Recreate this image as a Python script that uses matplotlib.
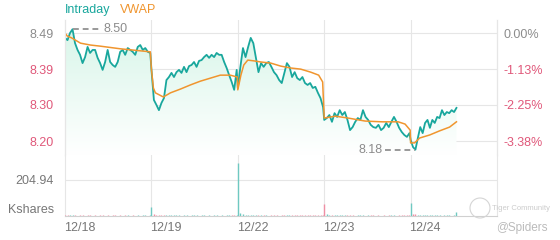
import numpy as np
import matplotlib.pyplot as plt
from matplotlib.colors import LinearSegmentedColormap
from matplotlib.patches import Circle

plt.rcParams['font.family'] = ['Liberation Sans', 'DejaVu Sans']

# ---- data ----
days = ['12/18', '12/19', '12/22', '12/23', '12/24']
session_end = [385, 385, 385, 385, 207]   # minutes after open of last print
prev_close = 8.49
pct_ticks = [0.00, -1.13, -2.25, -3.38]

price_d1 = [8.477, 8.471, 8.490, 8.500, 8.463, 8.445, 8.432, 8.410, 8.426, 8.453,
            8.437, 8.445, 8.445, 8.424, 8.410, 8.392, 8.413, 8.445, 8.413, 8.405,
            8.400, 8.413, 8.440, 8.445, 8.432, 8.450, 8.445, 8.440, 8.432, 8.453,
            8.458, 8.445, 8.450, 8.440, 8.437]
price_d2 = [8.394, 8.312, 8.299, 8.285, 8.304, 8.317, 8.365, 8.373, 8.384, 8.373,
            8.386, 8.392, 8.384, 8.400, 8.386, 8.402, 8.405, 8.413, 8.400, 8.416,
            8.418, 8.426, 8.432, 8.424, 8.432, 8.426, 8.437, 8.432, 8.432, 8.413,
            8.397, 8.378, 8.360, 8.339, 8.392]
price_d3 = [8.344, 8.400, 8.450, 8.426, 8.453, 8.477, 8.463, 8.424, 8.386, 8.410,
            8.400, 8.410, 8.413, 8.400, 8.386, 8.378, 8.365, 8.357, 8.384, 8.410,
            8.400, 8.373, 8.386, 8.370, 8.365, 8.373, 8.357, 8.352, 8.357, 8.344,
            8.347, 8.331, 8.317, 8.293]
price_d4 = [8.259, 8.264, 8.272, 8.254, 8.277, 8.267, 8.285, 8.272, 8.280, 8.259,
            8.232, 8.240, 8.254, 8.264, 8.259, 8.285, 8.267, 8.259, 8.246, 8.240,
            8.238, 8.246, 8.232, 8.238, 8.251, 8.240, 8.254, 8.267, 8.254, 8.238,
            8.227, 8.219, 8.214, 8.224]
price_d5 = [8.206, 8.187, 8.180, 8.211, 8.240, 8.224, 8.251, 8.259, 8.238, 8.259,
            8.251, 8.267, 8.264, 8.285, 8.272, 8.280, 8.277, 8.285, 8.280, 8.291]

vwap_min_d1 = [0, 10, 30, 70, 115, 160, 250, 385]
vwap_d1 = [8.490, 8.482, 8.477, 8.463, 8.458, 8.455, 8.448, 8.440]
vwap_min_d2 = [0, 9, 18, 54, 86, 131, 176, 221, 266, 311, 356, 388]
vwap_d2 = [8.394, 8.344, 8.331, 8.320, 8.331, 8.341, 8.352, 8.362, 8.370, 8.378, 8.378, 8.373]
vwap_min_d3 = [0, 14, 27, 45, 72, 104, 149, 194, 239, 284, 329, 365, 383]
vwap_d3 = [8.339, 8.378, 8.405, 8.418, 8.416, 8.413, 8.410, 8.402, 8.397, 8.394, 8.386, 8.378, 8.360]
vwap_min_d4 = [0, 50, 108, 185, 262, 334, 365, 388]
vwap_d4 = [8.264, 8.269, 8.264, 8.256, 8.254, 8.254, 8.248, 8.232]
vwap_min_d5 = [0, 18, 41, 86, 131, 176, 207]
vwap_d5 = [8.198, 8.198, 8.211, 8.219, 8.230, 8.240, 8.254]

vol_d1 = [8, 4, 3, 5, 3, 2, 4, 3, 2, 5, 3, 2, 3, 2, 6, 3, 2, 3, 2, 4, 3, 2, 3, 2, 3,
          5, 2, 3, 2, 3, 2, 4, 3, 2, 6]
vol_d2 = [51, 12, 8, 6, 5, 4, 6, 3, 4, 3, 5, 3, 2, 4, 3, 2, 3, 5, 3, 2, 4, 3, 2, 3, 2,
          3, 4, 2, 3, 2, 3, 4, 5, 6, 8]
vol_d3 = [302, 15, 10, 8, 6, 5, 4, 3, 5, 3, 4, 3, 2, 3, 4, 3, 2, 3, 5, 8, 4, 3, 6, 4,
          3, 4, 8, 6, 5, 4, 3, 4, 5, 7]
vol_d4 = [68, 10, 8, 6, 5, 4, 3, 4, 3, 5, 4, 3, 2, 3, 4, 3, 2, 3, 4, 3, 2, 3, 2, 3, 2,
          3, 4, 3, 2, 3, 4, 3, 5, 6]
vol_d5 = [74, 12, 9, 6, 5, 4, 3, 4, 3, 5, 3, 4, 3, 2, 3, 4, 3, 2, 4, 23]

vol_gridline = 204.94

# ---- build time axis (day index + fraction of 390 min session) ----
prices = [price_d1, price_d2, price_d3, price_d4, price_d5]
vwaps = [vwap_d1, vwap_d2, vwap_d3, vwap_d4, vwap_d5]
vwap_mins = [vwap_min_d1, vwap_min_d2, vwap_min_d3, vwap_min_d4, vwap_min_d5]
vols = [vol_d1, vol_d2, vol_d3, vol_d4, vol_d5]

t_p, t_v = [], []
for i in range(5):
    t_p.append(i + np.linspace(0, session_end[i], len(prices[i])) / 390)
    t_v.append(i + np.array(vwap_mins[i]) / 390)
t_p = np.concatenate(t_p)
t_v = np.concatenate(t_v)
p_all = np.concatenate(prices)
v_all = np.concatenate(vwaps)
vol_all = np.concatenate(vols)

teal = '#19a79d'
orange = '#f0952e'
red = '#e0587a'
gray = '#8c8c8c'
grid_c = '#e6e6e6'

fig = plt.figure(figsize=(5.6, 2.4), dpi=100)
W, H = 560, 240
left, right = 65 / W, 497 / W
ax = fig.add_axes([left, 1 - 155 / H, right - left, (155 - 20) / H])
axv = fig.add_axes([left, 1 - 216 / H, right - left, (216 - 155) / H])

ticks = [prev_close * (1 + q / 100) for q in pct_ticks]
px = (ticks[0] - ticks[3]) / 108.0
ylo, yhi = ticks[0] - 122 * px, ticks[0] + 13 * px
ax.set_xlim(0, 5)
ax.set_ylim(ylo, yhi)

# gradient fill under price line
cmap = LinearSegmentedColormap.from_list('g', ['#ffffff', '#d6f5e8'])
grad = np.linspace(0, 1, 256).reshape(-1, 1)
im = ax.imshow(grad, extent=[0, 5, ylo, yhi], origin='lower', aspect='auto',
               cmap=cmap, zorder=1)
poly = ax.fill_between(t_p, p_all, ylo, color='none', lw=0)
im.set_clip_path(poly.get_paths()[0], transform=ax.transData)

for y in ticks:
    ax.axhline(y, color=grid_c, lw=0.8, zorder=0)
for d in range(1, 5):
    ax.axvline(d, color=grid_c, lw=0.8, zorder=0)
    axv.axvline(d, color=grid_c, lw=0.8, zorder=0)

ax.plot(t_p, p_all, color=teal, lw=1.3, zorder=3)
ax.plot(t_v, v_all, color=orange, lw=1.1, zorder=4)

# max / min markers
i_max, i_min = np.argmax(p_all), np.argmin(p_all)
ax.plot([t_p[i_max], t_p[i_max] + 0.33], [p_all[i_max]] * 2, color='#999999',
        lw=1.4, ls=(0, (3, 2)), zorder=5)
ax.text(t_p[i_max] + 0.36, p_all[i_max], '%.2f' % p_all[i_max], color=gray,
        fontsize=9, va='center', ha='left')
ax.plot([t_p[i_min] - 0.35, t_p[i_min]], [p_all[i_min]] * 2, color='#999999',
        lw=1.4, ls=(0, (3, 2)), zorder=5)
ax.text(t_p[i_min] - 0.38, p_all[i_min], '%.2f' % p_all[i_min], color=gray,
        fontsize=9, va='center', ha='right')

ax.set_yticks(ticks)
ax.set_yticklabels(['%.2f' % v for v in ticks])
ax.tick_params(axis='y', length=0, pad=8, labelsize=9)
ax.set_xticks([])
for lab, c in zip(ax.get_yticklabels(), [gray, red, red, red]):
    lab.set_color(c)

axr = ax.twinx()
axr.set_ylim(ylo, yhi)
axr.set_yticks(ticks)
axr.set_yticklabels(['%.2f%%' % q for q in pct_ticks])
axr.tick_params(axis='y', length=0, pad=5, labelsize=9)
for lab, c in zip(axr.get_yticklabels(), [gray, red, red, red]):
    lab.set_color(c)

for a in (ax, axr):
    for s in ('top', 'bottom'):
        a.spines[s].set_visible(False)
    a.spines['left'].set_color(grid_c)
    a.spines['right'].set_color(grid_c)

# volume panel
vmax = vol_gridline * 61 / 36
axv.set_xlim(0, 5)
axv.set_ylim(0, vmax)
axv.axhline(vol_gridline, color=grid_c, lw=0.8, zorder=0)
up = p_all >= np.interp(t_p, t_v, v_all) - 0.003
vcol = np.where(up, '#6fc9c1', '#ef8fa5')
axv.vlines(t_p, 0, vol_all, colors=vcol, lw=1.0, zorder=3)
axv.set_yticks([0, vol_gridline])
axv.set_yticklabels(['Kshares', '%.2f' % vol_gridline])
axv.get_yticklabels()[0].set_va('bottom')
axv.tick_params(axis='y', length=0, pad=8, labelsize=9, labelcolor='#777777')
axv.set_xticks([d + 0.17 for d in range(5)])
axv.set_xticklabels(days)
axv.tick_params(axis='x', length=0, pad=4, labelsize=9, labelcolor='#777777')
axv.spines['top'].set_visible(False)
axv.spines['left'].set_color(grid_c)
axv.spines['right'].set_color(grid_c)
axv.spines['bottom'].set_color('#d0d0d0')

# header legend
fig.text(65 / W, 1 - 10 / H, 'Intraday', color=teal, fontsize=9, va='center')
fig.text(120 / W, 1 - 10 / H, 'VWAP', color=orange, fontsize=9, va='center')

# watermark
fig.patches.append(Circle((4.80, 2.4 - 2.08), 0.10, transform=fig.dpi_scale_trans,
                          fill=False, ec='#d5d5d5', lw=0.8))
fig.text(492 / W, 1 - 208 / H, 'Tiger Community', color='#cccccc', fontsize=5.5,
         va='center')
fig.text(548 / W, 1 - 228 / H, '@Spiders', color='#bbbbbb', fontsize=8.5,
         va='center', ha='right')

fig.savefig('out.png', dpi=100)
